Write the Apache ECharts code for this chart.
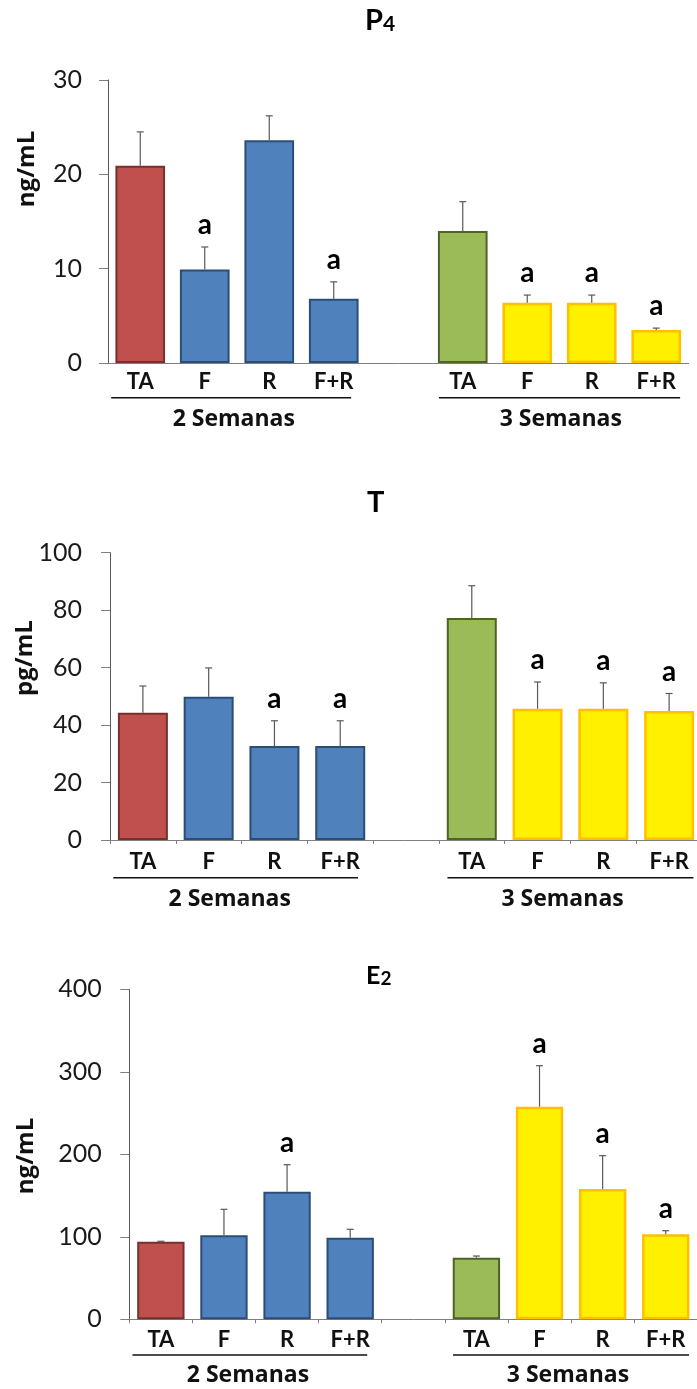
<!DOCTYPE html>
<html>
<head>
<meta charset="utf-8">
<script src="https://cdn.jsdelivr.net/npm/echarts@6/dist/echarts.min.js"></script>
<style>
  html, body { margin: 0; padding: 0; background: #fff; }
  #chart { width: 697px; height: 1389px; }
</style>
</head>
<body>
<div id="chart"></div>
<script>
// Hormone levels per treatment group, after 2 and 3 weeks (mean + upper error)
const categories = ['TA', 'F', 'R', 'F+R', '', 'TA', 'F', 'R', 'F+R'];
const groupLabels = ['2 Semanas', '3 Semanas'];

const p4Mean = [20.9, 9.9, 23.6, 6.8, null, 14.0, 6.4, 6.4, 3.5];
const p4Err  = [3.6, 2.4, 2.6, 1.8, null, 3.1, 0.8, 0.8, 0.2];
const p4Sig  = ['', 'a', '', 'a', '', '', 'a', 'a', 'a'];
const p4Ticks = [0, 10, 20, 30];

const tMean = [44.3, 49.9, 32.7, 32.7, null, 77.3, 45.7, 45.7, 44.9];
const tErr  = [9.3, 10.0, 8.8, 8.8, null, 11.2, 9.3, 9.0, 6.1];
const tSig  = ['', '', 'a', 'a', '', '', 'a', 'a', 'a'];
const tTicks = [0, 20, 40, 60, 80, 100];

const e2Mean = [94, 101.8, 154.7, 98.9, null, 74.7, 257.7, 157.9, 103];
const e2Err  = [0.6, 31.5, 32.7, 10.2, null, 2.0, 49.7, 40.4, 4.4];
const e2Sig  = ['', '', 'a', '', '', '', 'a', 'a', 'a'];
const e2Ticks = [0, 100, 200, 300, 400];

// Which colour group each category slot belongs to
const barGroup = ['ta2', 'trt2', 'trt2', 'trt2', null, 'ta3', 'trt3', 'trt3', 'trt3'];
const palette = {
  ta2:  { fill: '#C0504D', edge: '#76302E', w: 2 },
  trt2: { fill: '#4F81BD', edge: '#2C4D75', w: 2 },
  ta3:  { fill: '#9BBB59', edge: '#4F6228', w: 2 },
  trt3: { fill: '#FFF000', edge: '#FFC000', w: 2.5 }
};

const FONT = 'Lato, "Open Sans", "DejaVu Sans", sans-serif';
const WIDE = '"Open Sans", Lato, "DejaVu Sans", sans-serif';

const panels = [
  { mean: p4Mean, err: p4Err, sig: p4Sig, ticks: p4Ticks,
    title: ['P', '4'], titleSize: [29, 21], titleX: 365, titleY: 6,
    unit: 'ng/mL', unitX: 27, unitY: 169,
    grid: { left: 108, top: 80, width: 580.5, height: 283 },
    xTicks: false, labelMargin: 8, yMargin: 26, barWidth: '77%',
    lineY: 397.7, groupY: 419, groupAt: [1.45, 6.52] },
  { mean: tMean, err: tErr, sig: tSig, ticks: tTicks,
    title: ['T', ''], titleSize: [29, 21], titleX: 367, titleY: 488,
    unit: 'pg/mL', unitX: 25, unitY: 658,
    grid: { left: 110, top: 552.7, width: 592, height: 287.3 },
    xTicks: true, labelMargin: 11, yMargin: 28, barWidth: '76%',
    lineY: 877.7, groupY: 899, groupAt: [1.32, 6.38] },
  { mean: e2Mean, err: e2Err, sig: e2Sig, ticks: e2Ticks,
    title: ['E', '2'], titleSize: [25, 19], titleX: 366, titleY: 963,
    unit: 'ng/mL', unitX: 26, unitY: 1156,
    grid: { left: 129.3, top: 989.3, width: 568, height: 330 },
    xTicks: true, labelMargin: 10, yMargin: 27.5, barWidth: '75%',
    lineY: 1355, groupY: 1375, groupAt: [1.38, 6.45] }
];

// Underline spans under each group of four categories (category-index units)
const underlineSpans = [[-0.45, 3.27], [4.63, 8.37]];

const chart = echarts.init(document.getElementById('chart'), null, { renderer: 'canvas', width: 697, height: 1389 });

const grids = [], xAxes = [], yAxes = [], series = [];

panels.forEach((p, k) => {
  grids.push(Object.assign({ containLabel: false, outerBoundsMode: 'none' }, p.grid));

  xAxes.push({
    type: 'category', gridIndex: k, data: categories,
    axisLine: { show: true, lineStyle: { color: '#7F7F7F', width: 1 } },
    axisTick: { show: p.xTicks, length: 4, lineStyle: { color: '#7F7F7F' } },
    axisLabel: { interval: 0, margin: p.labelMargin, fontFamily: FONT, fontWeight: 'bold', fontSize: 22, color: '#111' },
    splitLine: { show: false }
  });

  yAxes.push({
    type: 'value', gridIndex: k,
    min: p.ticks[0], max: p.ticks[p.ticks.length - 1], interval: p.ticks[1] - p.ticks[0],
    axisLine: { show: true, lineStyle: { color: '#595959', width: 1 } },
    axisTick: { show: true, length: 9, lineStyle: { color: '#7F7F7F' } },
    axisLabel: { margin: p.yMargin, fontFamily: FONT, fontSize: 25, color: '#1a1a1a' },
    splitLine: { show: false }
  });

  series.push({
    type: 'bar', xAxisIndex: k, yAxisIndex: k, barWidth: p.barWidth,
    data: p.mean.map((v, i) => {
      if (v == null) return '-';
      const c = palette[barGroup[i]];
      return { value: v, itemStyle: { color: c.fill, borderColor: c.edge, borderWidth: c.w } };
    }),
    animation: false, silent: true
  });

  const sig = p.sig;
  series.push({
    type: 'custom', xAxisIndex: k, yAxisIndex: k,
    data: p.mean.map((v, i) => v == null ? null : [i, v, p.err[i]]).filter(d => d),
    encode: { x: 0, y: 1 },
    clip: false, z: 5, animation: false, silent: true,
    renderItem: (params, api) => {
      const i = api.value(0), v = api.value(1), e = api.value(2);
      const base = api.coord([i, v]);
      const top = api.coord([i, v + e]);
      const st = { stroke: '#595959', lineWidth: 1.2 };
      const kids = [
        { type: 'line', shape: { x1: base[0], y1: base[1], x2: top[0], y2: top[1] }, style: st },
        { type: 'line', shape: { x1: top[0] - 3.5, y1: top[1], x2: top[0] + 3.5, y2: top[1] }, style: st }
      ];
      if (sig[i]) {
        kids.push({ type: 'text', x: top[0], y: top[1] - 8,
          style: { text: sig[i], font: 'bold 28px ' + FONT, fill: '#000', align: 'center', verticalAlign: 'bottom' } });
      }
      return { type: 'group', children: kids };
    }
  });
});

chart.setOption({
  backgroundColor: '#fff',
  animation: false,
  grid: grids, xAxis: xAxes, yAxis: yAxes, series: series
});

// Titles, axis names, group underlines and group labels
const graphics = [];
panels.forEach((p, k) => {
  graphics.push({
    type: 'text', x: p.titleX, y: p.titleY,
    style: {
      text: '{m|' + p.title[0] + '}' + (p.title[1] ? '{s|' + p.title[1] + '}' : ''),
      fill: '#000',
      rich: {
        m: { fontFamily: FONT, fontWeight: 'bold', fontSize: p.titleSize[0], verticalAlign: 'bottom' },
        s: { fontFamily: FONT, fontWeight: 'bold', fontSize: p.titleSize[1], verticalAlign: 'bottom' }
      }
    }
  });
  graphics.push({
    type: 'text', x: p.unitX, y: p.unitY, rotation: Math.PI / 2,
    style: { text: p.unit, font: 'bold 24px ' + WIDE, fill: '#111', align: 'center', verticalAlign: 'middle' }
  });

  // category index -> pixel, via the axis scale
  const x0 = chart.convertToPixel({ xAxisIndex: k }, 0);
  const x1 = chart.convertToPixel({ xAxisIndex: k }, 1);
  const toPx = (t) => x0 + (x1 - x0) * t;

  underlineSpans.forEach(([a, b]) => {
    graphics.push({
      type: 'line', shape: { x1: toPx(a), y1: p.lineY, x2: toPx(b), y2: p.lineY },
      style: { stroke: '#111', lineWidth: 1.5 }
    });
  });
  p.groupAt.forEach((t, g) => {
    graphics.push({
      type: 'text', x: toPx(t), y: p.groupY,
      style: { text: groupLabels[g], font: 'bold 23px ' + WIDE, fill: '#111', align: 'center', verticalAlign: 'middle' }
    });
  });
});

chart.setOption({ graphic: graphics });
</script>
</body>
</html>
